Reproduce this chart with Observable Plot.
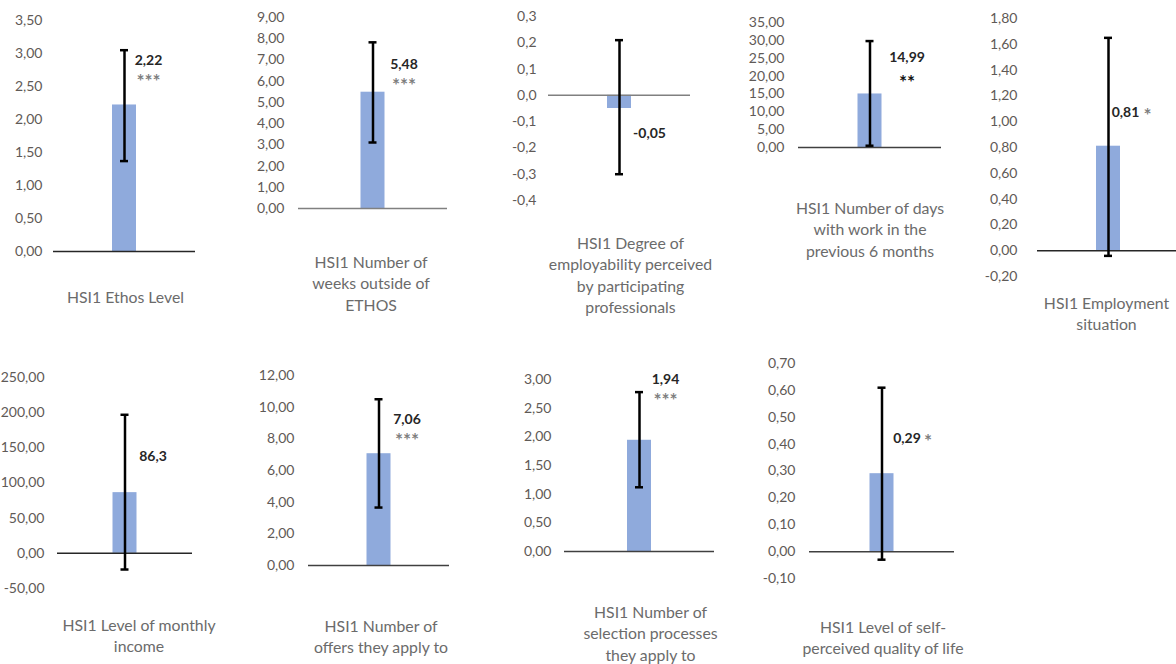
<!DOCTYPE html>
<html><head><meta charset="utf-8">
<script src="https://cdn.jsdelivr.net/npm/d3@7"></script>
<script src="https://cdn.jsdelivr.net/npm/@observablehq/plot@0.6"></script>
<style>
html,body{margin:0;padding:0;background:#fff;}
#root{position:relative;width:1176px;height:664px;overflow:hidden;background:#fff;font-family:Lato,"Open Sans",sans-serif;}
.panel{position:absolute;}
.panel svg{overflow:visible;max-width:none;}
</style></head><body><div id="root"></div>
<script>
// ---- data ----
const titles = [
  "HSI1 Ethos Level",
  "HSI1 Number of\nweeks outside of\nETHOS",
  "HSI1 Degree of\nemployability perceived\nby participating\nprofessionals",
  "HSI1 Number of days\nwith work in the\nprevious 6 months",
  "HSI1 Employment\nsituation",
  "HSI1 Level of monthly\nincome",
  "HSI1 Number of\noffers they apply to",
  "HSI1 Number of\nselection processes\nthey apply to",
  "HSI1 Level of self-\nperceived quality of life"
];
const means  = [2.22, 5.48, -0.05, 14.99, 0.81, 86.3, 7.06, 1.94, 0.29];
const lower  = [1.37, 3.11, -0.30, 0.5, -0.04, -23, 3.66, 1.12, -0.03];
const upper  = [3.05, 7.83, 0.21, 29.8, 1.65, 197, 10.5, 2.78, 0.61];
const valueLabels = ["2,22", "5,48", "-0,05", "14,99", "0,81", "86,3", "7,06", "1,94", "0,29"];
const stars = ["***", "***", "", "**", "*", "", "***", "***", "*"];
const yTicks = [
  [0, 0.5, 1, 1.5, 2, 2.5, 3, 3.5],
  [0, 1, 2, 3, 4, 5, 6, 7, 8, 9],
  [-0.4, -0.3, -0.2, -0.1, 0, 0.1, 0.2, 0.3],
  [0, 5, 10, 15, 20, 25, 30, 35],
  [-0.2, 0, 0.2, 0.4, 0.6, 0.8, 1, 1.2, 1.4, 1.6, 1.8],
  [-50, 0, 50, 100, 150, 200, 250],
  [0, 2, 4, 6, 8, 10, 12],
  [0, 0.5, 1, 1.5, 2, 2.5, 3],
  [-0.1, 0, 0.1, 0.2, 0.3, 0.4, 0.5, 0.6, 0.7]
];
const tickDecimals = [2, 2, 1, 2, 2, 2, 2, 2, 2];

// ---- layout & style (pixels) ----
const layout = [
  {left:0,   top:0,   width:240, height:340, mL:53, mR:45, mT:20, mB:89,  pad:11, tDx:1,   tDy:36, lDx:24,  lDy:-44.5, sDx:24,  sDy:-23,   axis:"#262626"},
  {left:240, top:0,   width:250, height:340, mL:58, mR:43, mT:17, mB:132, pad:14, tDx:-2,  tDy:44, lDx:31,  lDy:-27.7, sDx:31,  sDy:-6,    axis:"#808080"},
  {left:490, top:0,   width:250, height:340, mL:58, mR:50, mT:16, mB:140, pad:12, tDx:11,  tDy:33, lDx:30,  lDy:25,    sDx:30,  sDy:40,    axis:"#808080"},
  {left:740, top:0,   width:230, height:340, mL:58, mR:29, mT:22, mB:193, pad:14, tDx:0,   tDy:51, lDx:37,  lDy:-36.5, sDx:37,  sDy:-11,   axis:"#404040"},
  {left:970, top:0,   width:209, height:340, mL:67, mR:0,  mT:18, mB:64,  pad:20, tDx:-2,  tDy:17, lDx:17,  lDy:-33.5, sDx:39,  sDy:-30,   axis:"#262626"},
  {left:0,   top:340, width:240, height:324, mL:57, mR:48, mT:37, mB:76,  pad:13, tDx:14,  tDy:27, lDx:28,  lDy:-36,   sDx:28,  sDy:-20,   axis:"#262626"},
  {left:240, top:340, width:250, height:324, mL:68, mR:41, mT:35, mB:99,  pad:14, tDx:2,   tDy:51, lDx:28,  lDy:-34,   sDx:28,  sDy:-13,   axis:"#404040"},
  {left:490, top:340, width:250, height:324, mL:74, mR:26, mT:39, mB:113, pad:13, tDx:11,  tDy:51, lDx:26,  lDy:-61,   sDx:26,  sDy:-39,   axis:"#404040"},
  {left:740, top:340, width:250, height:324, mL:69, mR:36, mT:23, mB:86,  pad:14, tDx:1,   tDy:39, lDx:25,  lDy:-35,   sDx:46,  sDy:-32,   axis:"#404040"}
];

const locale = d3.formatLocale({decimal: ",", thousands: ".", grouping: [3], currency: ["", " €"], minus: "-"});
const root = document.getElementById("root");

layout.forEach((L, i) => {
  const datum = {title: titles[i], mean: means[i], lo: lower[i], hi: upper[i]};
  const ticks = yTicks[i];
  const frameW = L.width - L.mL - L.mR;
  const barInset = (frameW - 24) / 2;
  const capInset = (frameW - 8) / 2;
  const fmt = locale.format(`.${tickDecimals[i]}f`);
  const starColor = stars[i] === "**" ? "#111" : "#7f7f7f";
  const plot = Plot.plot({
    width: L.width, height: L.height,
    marginLeft: L.mL, marginRight: L.mR, marginTop: L.mT, marginBottom: L.mB,
    style: {background: "transparent", overflow: "visible", fontFamily: "Lato, 'Open Sans', sans-serif"},
    x: {type: "band", domain: [titles[i]], padding: 0, axis: null},
    y: {domain: d3.extent(ticks), axis: null},
    marks: [
      Plot.axisY({ticks, tickFormat: fmt, tickSize: 0, tickPadding: L.pad, fontSize: 14, fill: "#5f5a57"}),
      Plot.barY([datum], {x: "title", y1: 0, y2: "mean", fill: "#8faadc", insetLeft: barInset, insetRight: barInset}),
      Plot.ruleY([0], {stroke: L.axis, strokeWidth: 1.5}),
      Plot.ruleX([datum], {x: "title", y1: "lo", y2: "hi", stroke: "#000", strokeWidth: 2.5}),
      Plot.tickY([datum], {x: "title", y: "hi", stroke: "#000", strokeWidth: 2.5, insetLeft: capInset, insetRight: capInset}),
      Plot.tickY([datum], {x: "title", y: "lo", stroke: "#000", strokeWidth: 2.5, insetLeft: capInset, insetRight: capInset}),
      Plot.text([datum], {x: "title", y: "mean", text: () => valueLabels[i], dx: L.lDx, dy: L.lDy, fontWeight: "bold", fontSize: 14, fill: "#262626"}),
      Plot.text([datum], {x: "title", y: "mean", text: () => stars[i], dx: L.sDx, dy: L.sDy, fontWeight: "bold", fontSize: 19, fill: starColor}),
      Plot.text([datum], {x: "title", text: "title", frameAnchor: "bottom", lineAnchor: "top", dx: L.tDx, dy: L.tDy, fontSize: 15.8, lineHeight: 1.36, fill: "#6b6b6b"})
    ]
  });
  const div = document.createElement("div");
  div.className = "panel";
  div.style.left = L.left + "px";
  div.style.top = L.top + "px";
  div.style.width = L.width + "px";
  div.style.height = L.height + "px";
  div.appendChild(plot);
  root.appendChild(div);
});
</script>
</body></html>
